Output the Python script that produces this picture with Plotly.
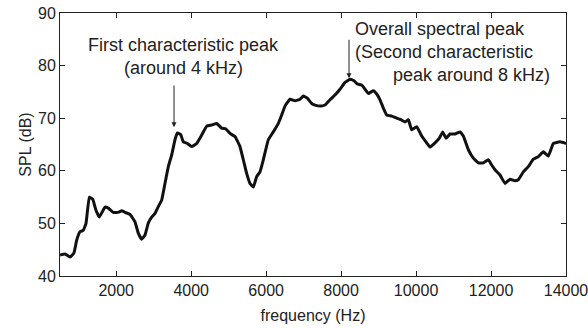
import plotly.graph_objects as go

freq = [500, 633, 767, 873, 945, 1033, 1122, 1194, 1283, 1372, 1460, 1549, 1700, 1789, 1922, 2056, 2145,
        2234, 2368, 2501, 2590, 2679, 2768, 2857, 2946, 3035, 3123, 3212, 3301, 3390, 3479, 3568, 3630,
        3720, 3790, 3897, 4013, 4147, 4280, 4414, 4547, 4681, 4814, 4920, 5036, 5169, 5302, 5391, 5480,
        5569, 5658, 5747, 5836, 5925, 6058, 6192, 6325, 6414, 6503, 6637, 6770, 6903, 6992, 7099, 7215,
        7304, 7437, 7571, 7704, 7837, 7971, 8104, 8237, 8344, 8433, 8549, 8638, 8727, 8860, 8949, 9038,
        9127, 9216, 9350, 9483, 9572, 9705, 9794, 9883, 10017, 10150, 10283, 10372, 10506, 10621, 10710,
        10799, 10906, 11039, 11173, 11261, 11395, 11528, 11662, 11795, 11928, 12017, 12106, 12239, 12373,
        12506, 12639, 12728, 12862, 12995, 13129, 13262, 13395, 13529, 13662, 13840, 14000]
spl = [44.0, 44.2, 43.6, 44.4, 46.8, 48.4, 48.7, 50.0, 55.0, 54.6, 52.5, 51.2, 53.1, 52.9, 52.1, 52.1, 52.4,
       52.1, 51.7, 50.3, 48.1, 47.0, 47.8, 50.1, 51.2, 51.9, 53.2, 54.4, 57.6, 60.8, 63.0, 65.9, 67.2,
       66.9, 65.5, 65.2, 64.6, 65.2, 66.8, 68.5, 68.7, 69.0, 68.1, 68.0, 67.1, 66.5, 64.6, 62.1, 59.5,
       57.6, 56.9, 58.9, 59.8, 62.1, 65.9, 67.4, 69.0, 70.6, 72.3, 73.6, 73.3, 73.6, 74.2, 73.8, 72.8,
       72.5, 72.3, 72.5, 73.5, 74.4, 75.5, 76.8, 77.4, 77.1, 76.5, 76.3, 75.5, 74.7, 75.2, 74.6, 73.5,
       71.9, 70.6, 70.4, 70.0, 69.8, 69.3, 69.7, 67.8, 68.4, 66.6, 65.3, 64.5, 65.3, 66.2, 67.4,
       66.2, 67.0, 67.0, 67.4, 66.6, 64.0, 62.4, 61.5, 61.5, 62.1, 61.1, 60.2, 59.2, 57.6,
       58.4, 58.1, 58.3, 59.8, 60.8, 62.2, 62.7, 63.6, 62.8, 65.2, 65.5, 65.2]

x_ticks = [2000, 4000, 6000, 8000, 10000, 12000, 14000]
x_ticktext = ["2000", "4000", "6000", "8000", "10000", "12000", "14000"]
y_ticks = [40, 50, 60, 70, 80, 90]

FONT = "Liberation Sans, Arial, sans-serif"
INK = "#222222"

fig = go.Figure()
fig.add_trace(go.Scatter(x=freq, y=spl, mode="lines",
                         line=dict(color="#111111", width=3, shape="spline", smoothing=0.3),
                         showlegend=False, hoverinfo="skip"))

axis_common = dict(showgrid=False, zeroline=False, showline=True, linecolor=INK, linewidth=1,
                   mirror="ticks", ticks="inside", ticklen=5, tickcolor=INK,
                   ticklabeloverflow="allow", automargin=False,
                   tickfont=dict(family=FONT, size=16, color=INK))

fig.update_xaxes(range=[500, 14000], tickvals=x_ticks, ticktext=x_ticktext,
                 title=dict(text="frequency (Hz)", font=dict(family=FONT, size=16, color=INK), standoff=11),
                 **axis_common)
fig.update_yaxes(range=[40, 90], tickvals=y_ticks,
                 title=dict(text="SPL (dB)", font=dict(family=FONT, size=16, color=INK), standoff=2),
                 **axis_common)

afont = dict(family=FONT, size=18, color=INK)

# First peak arrow and text
fig.add_annotation(x=3542, y=68.3, ax=3542, ay=76.5, axref="x", ayref="y", xref="x", yref="y",
                   showarrow=True, arrowhead=2, arrowsize=1, arrowwidth=1, arrowcolor=INK, text="")
fig.add_annotation(x=3795, y=84.0, xref="x", yref="y", text="First characteristic peak", showarrow=False,
                   font=afont, xanchor="center", yanchor="middle")
fig.add_annotation(x=3795, y=79.6, xref="x", yref="y", text="(around 4 kHz)", showarrow=False,
                   font=afont, xanchor="center", yanchor="middle")

# Second peak arrow and text
fig.add_annotation(x=8211, y=77.6, ax=8211, ay=85.2, axref="x", ayref="y", xref="x", yref="y",
                   showarrow=True, arrowhead=2, arrowsize=1, arrowwidth=1, arrowcolor=INK, text="")
fig.add_annotation(x=8318, y=87.0, xref="x", yref="y", text="Overall spectral peak", showarrow=False,
                   font=afont, xanchor="left", yanchor="middle")
fig.add_annotation(x=8318, y=82.5, xref="x", yref="y", text="(Second characteristic", showarrow=False,
                   font=afont, xanchor="left", yanchor="middle")
fig.add_annotation(x=13627, y=78.2, xref="x", yref="y", text="peak around 8 kHz)", showarrow=False,
                   font=afont, xanchor="right", yanchor="middle")

fig.update_layout(width=588, height=328, margin=dict(l=60, r=22, t=13, b=52),
                  paper_bgcolor="white", plot_bgcolor="white")

fig.write_html("out.html")
